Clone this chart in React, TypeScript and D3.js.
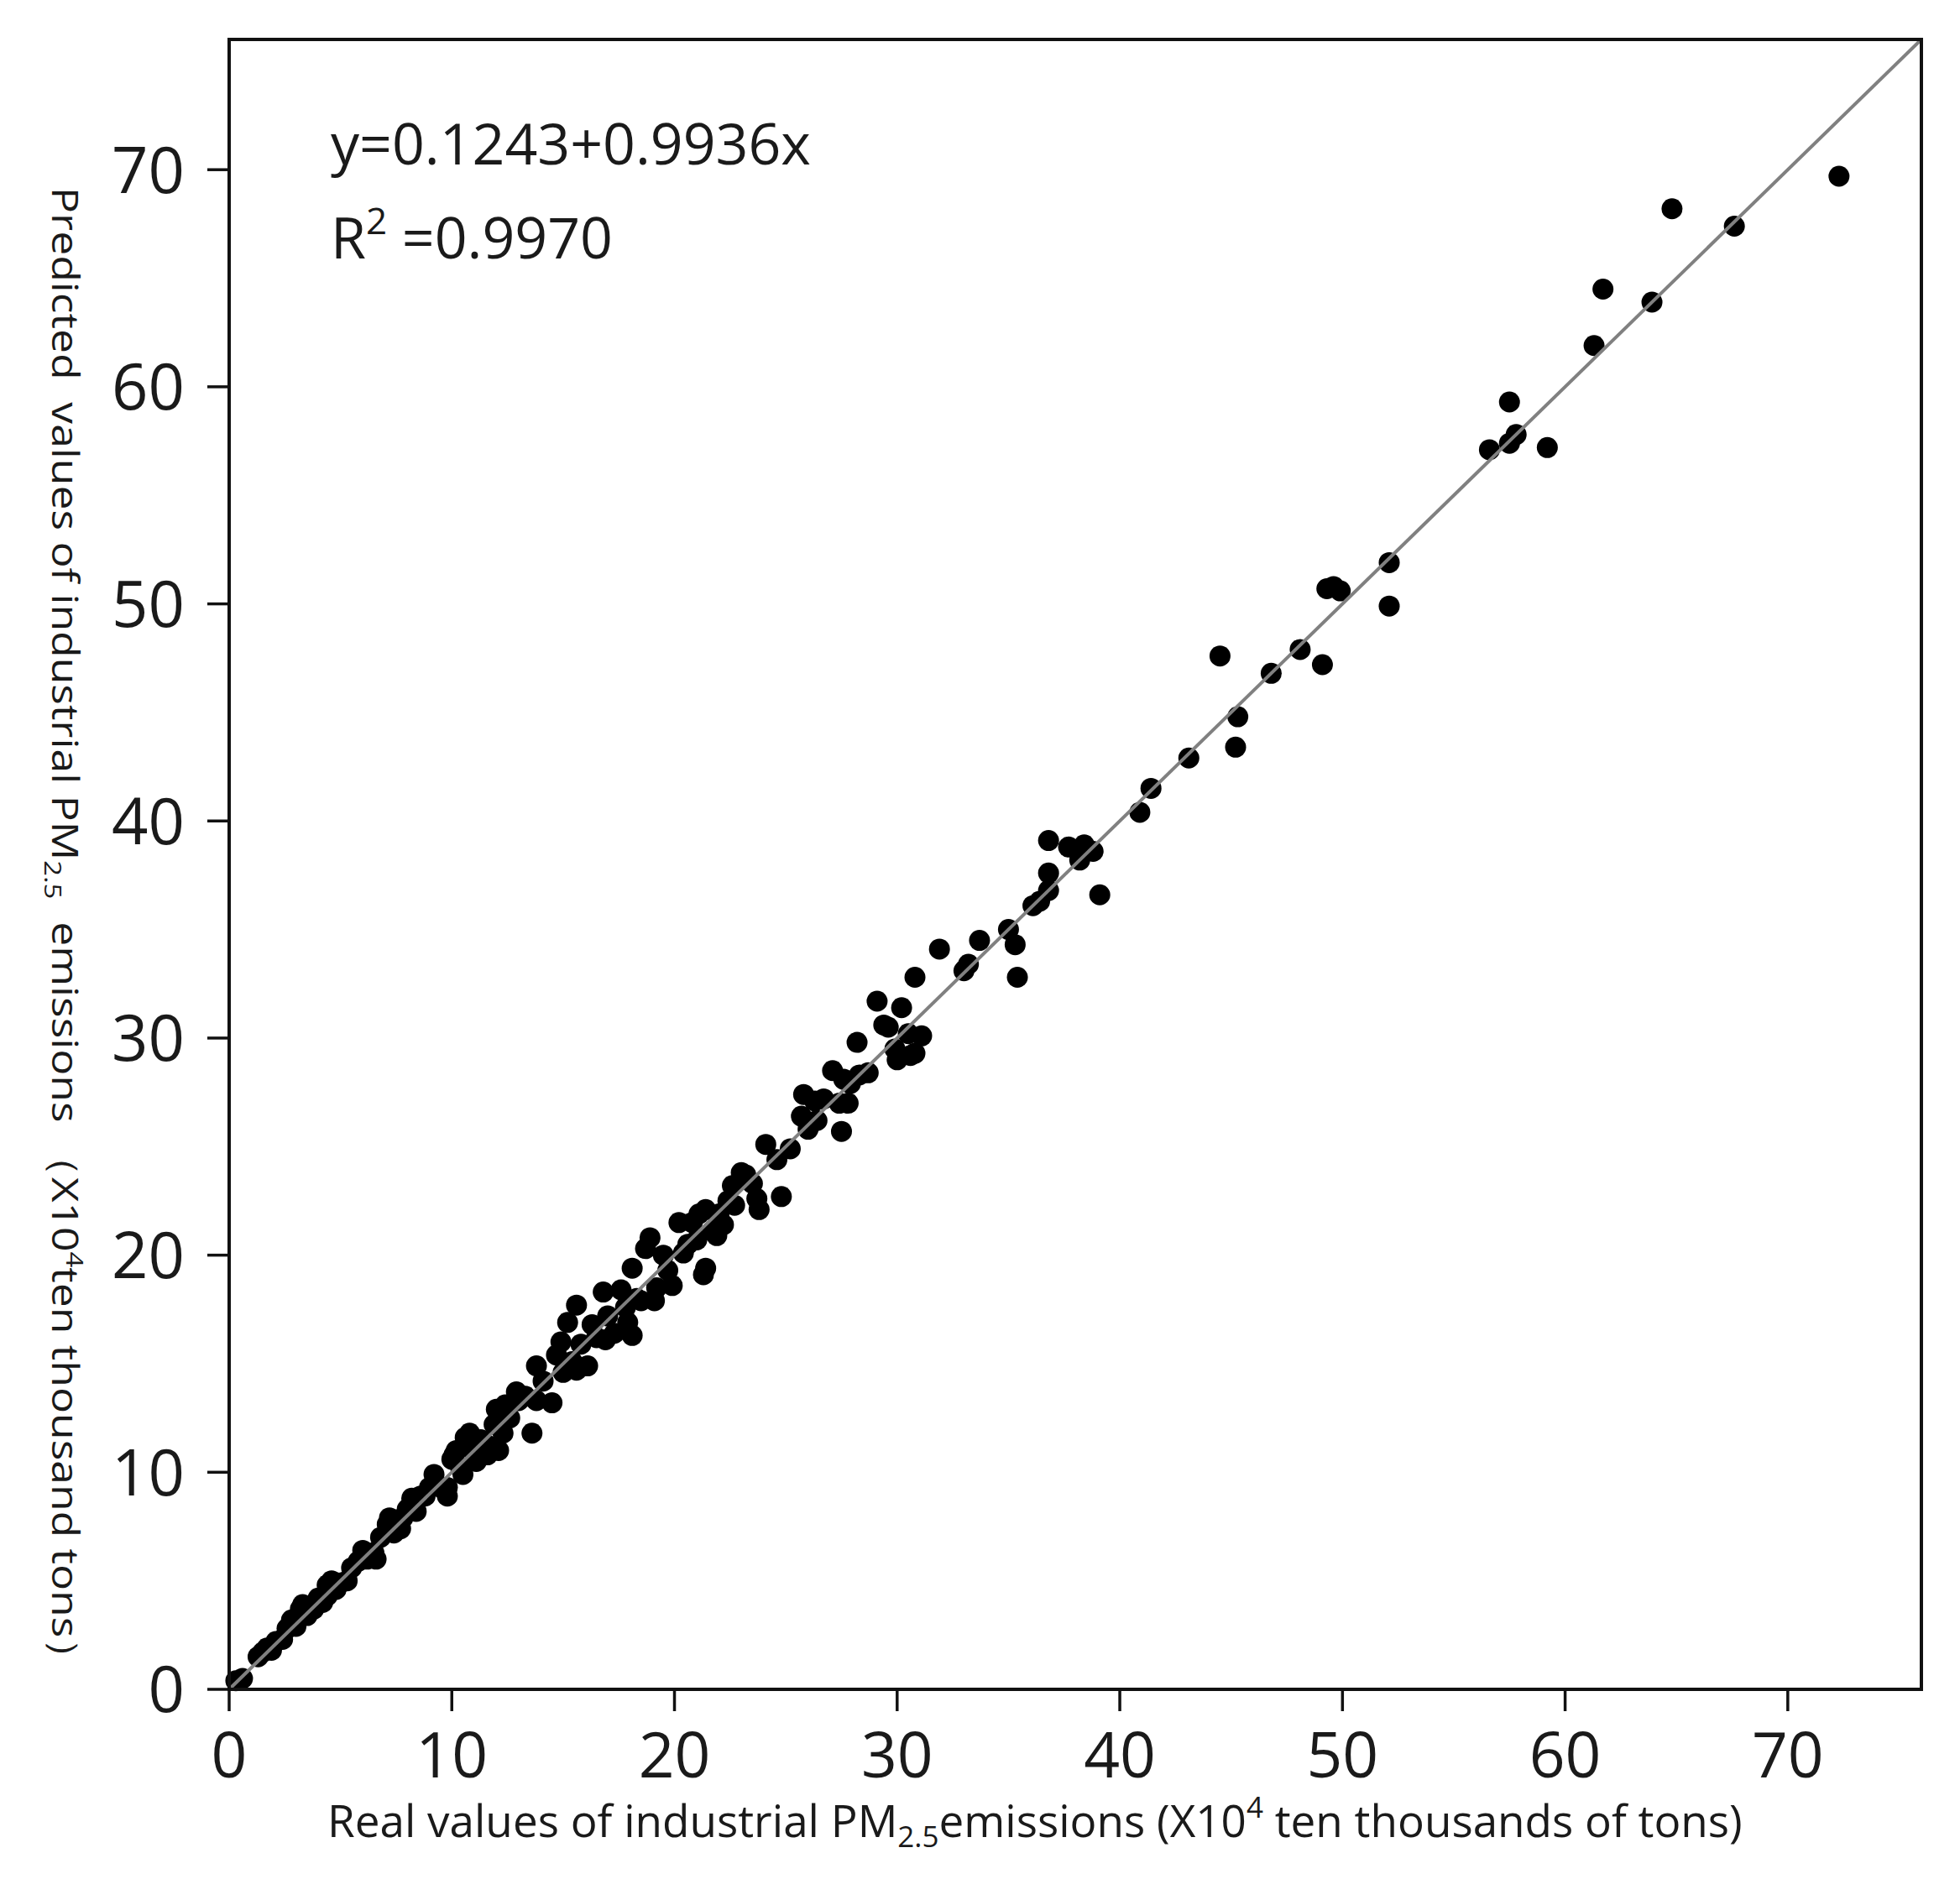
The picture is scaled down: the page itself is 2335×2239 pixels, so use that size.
import React, { useEffect } from "react";
import * as d3 from "d3";

// Real (observed) values, x10^4 tons
const realValues: number[] = [
  0.3, 0.6, 1.3, 1.5, 1.7, 1.9, 2.1, 2.4, 2.6, 2.8, 3.0, 3.2, 3.3, 3.5, 3.8, 4.0, 4.2, 4.4, 4.4, 4.6,
  4.8, 5.0, 5.3, 5.5, 5.8, 6.0, 6.2, 6.5, 6.6, 6.8, 7.1, 7.2, 7.4, 7.7, 7.8, 8.0, 8.2, 8.4, 8.6, 8.8,
  9.0, 9.2, 9.5, 9.8, 9.8, 10.0, 10.1, 10.2, 10.4, 10.5, 10.6, 10.8, 11.0, 11.1, 11.3, 11.6, 11.7, 11.9, 12.0, 12.1,
  12.3, 12.4, 12.6, 12.9, 13.0, 13.3, 13.6, 13.8, 13.8, 14.1, 14.5, 14.7, 14.9, 15.0, 15.2, 15.4, 15.6, 15.6, 15.8, 16.1,
  16.3, 16.5, 16.8, 16.9, 17.0, 17.3, 17.6, 17.8, 17.9, 18.1, 18.1, 18.3, 18.5, 18.7, 18.9, 19.1, 19.2, 19.5, 19.7, 19.9,
  20.2, 20.4, 20.6, 20.8, 21.0, 21.1, 21.3, 21.4, 21.4, 21.7, 21.9, 22.0, 22.2, 22.4, 22.6, 22.7, 23.0, 23.2, 23.5, 23.7,
  23.8, 24.1, 24.6, 24.8, 25.2, 25.7, 25.8, 26.0, 26.3, 26.4, 26.7, 27.1, 27.4, 27.5, 27.6, 27.8, 27.9, 28.2, 28.3, 28.7,
  29.1, 29.4, 29.6, 29.9, 30.0, 30.2, 30.5, 30.6, 30.8, 30.8, 31.1, 31.9, 33.0, 33.2, 33.7, 35.0, 35.3, 35.4, 36.1, 36.4,
  36.8, 36.8, 36.8, 37.7, 38.2, 38.4, 38.8, 39.1, 40.9, 41.4, 43.1, 44.5, 45.2, 45.3, 46.8, 48.1, 49.1, 49.3, 49.6, 49.9,
  52.1, 52.1, 56.6, 57.5, 57.8, 57.5, 59.2, 61.3, 61.7, 63.9, 64.8, 67.6, 72.3,
];

// Predicted values, x10^4 tons
const predictedValues: number[] = [
  0.4, 0.5, 1.5, 1.7, 1.9, 1.8, 2.2, 2.3, 2.8, 3.2, 2.9, 3.7, 3.9, 3.4, 3.7, 4.2, 4.0, 4.3, 4.8, 5.0,
  4.6, 4.9, 5.0, 5.6, 5.9, 6.4, 6.0, 6.3, 6.0, 7.0, 7.6, 7.9, 7.2, 7.4, 7.9, 8.3, 8.8, 8.2, 8.9, 8.9,
  9.3, 9.9, 9.3, 9.3, 8.9, 10.6, 10.8, 11.0, 10.2, 9.9, 11.6, 11.8, 10.9, 10.5, 11.5, 10.8, 11.2, 12.2, 12.9, 11.0,
  11.8, 13.1, 12.5, 13.7, 13.3, 13.5, 11.8, 13.3, 14.9, 14.2, 13.2, 15.4, 16.0, 14.6, 16.9, 15.1, 17.7, 14.7, 15.9, 14.9,
  16.8, 16.2, 18.3, 16.1, 17.2, 16.4, 18.4, 17.6, 16.9, 16.3, 19.4, 18.0, 17.9, 20.3, 20.8, 17.9, 18.5, 20.0, 19.3, 18.6,
  21.5, 20.1, 20.5, 21.5, 20.7, 21.9, 19.1, 22.1, 19.4, 21.1, 20.9, 21.9, 21.4, 22.5, 23.2, 22.3, 23.8, 23.7, 23.3, 22.6,
  22.1, 25.1, 24.4, 22.7, 24.9, 26.4, 27.4, 25.8, 27.1, 26.2, 27.2, 28.5, 27.0, 25.7, 28.1, 27.0, 27.9, 29.8, 28.3, 28.4,
  31.7, 30.6, 30.5, 29.5, 29.0, 31.4, 30.2, 29.2, 29.3, 32.8, 30.1, 34.1, 33.1, 33.4, 34.5, 35.0, 34.3, 32.8, 36.1, 36.3,
  36.8, 37.6, 39.1, 38.8, 38.2, 38.9, 38.6, 36.6, 40.4, 41.5, 42.9, 47.6, 43.4, 44.8, 46.8, 47.9, 47.2, 50.7, 50.8, 50.6,
  51.9, 49.9, 57.1, 57.4, 57.8, 59.3, 57.2, 61.9, 64.5, 63.9, 68.2, 67.4, 69.7,
];

const xTicks: number[] = [0, 10, 20, 30, 40, 50, 60, 70];
const yTicks: number[] = [0, 10, 20, 30, 40, 50, 60, 70];
const axisDomain: [number, number] = [0, 76];
const equationText = "y=0.1243+0.9936x";
const r2Value = "=0.9970";

const W = 2335;
const H = 2239;
const plot = { left: 273, right: 2289, top: 47, bottom: 2013 };
const FONT = "'Open Sans', 'Noto Sans', sans-serif";

export default function App() {
  useEffect(() => {
    document.body.style.margin = "0";
  }, []);

  const x = d3.scaleLinear().domain(axisDomain).range([plot.left, plot.right]);
  const y = d3.scaleLinear().domain(axisDomain).range([plot.bottom, plot.top]);

  const points = realValues.map((v, i) => ({ r: v, p: predictedValues[i] }));
  const lineGen = d3
    .line<[number, number]>()
    .x((d) => x(d[0]))
    .y((d) => y(d[1]));
  const fitLine: [number, number][] = [
    [axisDomain[0], axisDomain[0]],
    [axisDomain[1], axisDomain[1]],
  ];

  return (
    <svg
      width={W}
      height={H}
      style={{ position: "absolute", left: 0, top: 0, background: "#fff" }}
    >
      <rect x={0} y={0} width={W} height={H} fill="#fff" />
      {/* points */}
      <g>
        {points.map((d, i) => (
          <circle key={i} cx={x(d.r)} cy={y(d.p)} r={12.5} fill="#000" />
        ))}
      </g>
      {/* 1:1 / fit line */}
      <path d={lineGen(fitLine) || ""} stroke="#808080" strokeWidth={4} fill="none" />
      {/* frame */}
      <rect
        x={plot.left}
        y={plot.top}
        width={plot.right - plot.left}
        height={plot.bottom - plot.top}
        fill="none"
        stroke="#111"
        strokeWidth={4}
      />
      {/* x ticks */}
      <g>
        {xTicks.map((t) => (
          <g key={t}>
            <line x1={x(t)} x2={x(t)} y1={plot.bottom} y2={plot.bottom + 26} stroke="#111" strokeWidth={3.5} />
            <text
              x={x(t)}
              y={2118}
              textAnchor="middle"
              fontFamily={FONT}
              fontSize={75}
              fill="#1a1a1a"
            >
              {t}
            </text>
          </g>
        ))}
      </g>
      {/* y ticks */}
      <g>
        {yTicks.map((t) => (
          <g key={t}>
            <line x1={plot.left - 26} x2={plot.left} y1={y(t)} y2={y(t)} stroke="#111" strokeWidth={3.5} />
            <text
              x={220}
              y={y(t)}
              dy="0.36em"
              textAnchor="end"
              fontFamily={FONT}
              fontSize={76}
              fill="#1a1a1a"
            >
              {t}
            </text>
          </g>
        ))}
      </g>
      {/* equation */}
      <text x={394} y={196} fontFamily={FONT} fontSize={68} fill="#1a1a1a">
        {equationText}
      </text>
      <text x={394} y={308} fontFamily={FONT} fontSize={68} fill="#1a1a1a" style={{ whiteSpace: "pre" }}>
        R<tspan fontSize={44} dy={-29}>2</tspan>
        <tspan dy={29}> {r2Value}</tspan>
      </text>
      {/* x label */}
      <text x={390} y={2189} fontFamily={FONT} fontSize={53} fill="#1a1a1a" style={{ whiteSpace: "pre" }}>
        Real values of industrial PM
        <tspan fontSize={35} dy={12}>2.5</tspan>
        <tspan dy={-12}>emissions (X10</tspan>
        <tspan fontSize={35} dy={-23}>4</tspan>
        <tspan dy={23}> ten thousands of tons)</tspan>
      </text>
      {/* y label */}
      <text
        transform="translate(62,223) rotate(90)"
        x={0}
        y={0}
        fontFamily={FONT}
        fontSize={44}
        fill="#1a1a1a"
        textLength={1780}
        lengthAdjust="spacingAndGlyphs"
        style={{ whiteSpace: "pre" }}
      >
        {"Predicted  values of industrial PM"}
        <tspan fontSize={28} dy={9}>2.5</tspan>
        <tspan dy={-9}>{"  emissions （X10"}</tspan>
        <tspan fontSize={28} dy={-17}>4</tspan>
        <tspan dy={17}>{"ten thousand tons）"}</tspan>
      </text>
    </svg>
  );
}
